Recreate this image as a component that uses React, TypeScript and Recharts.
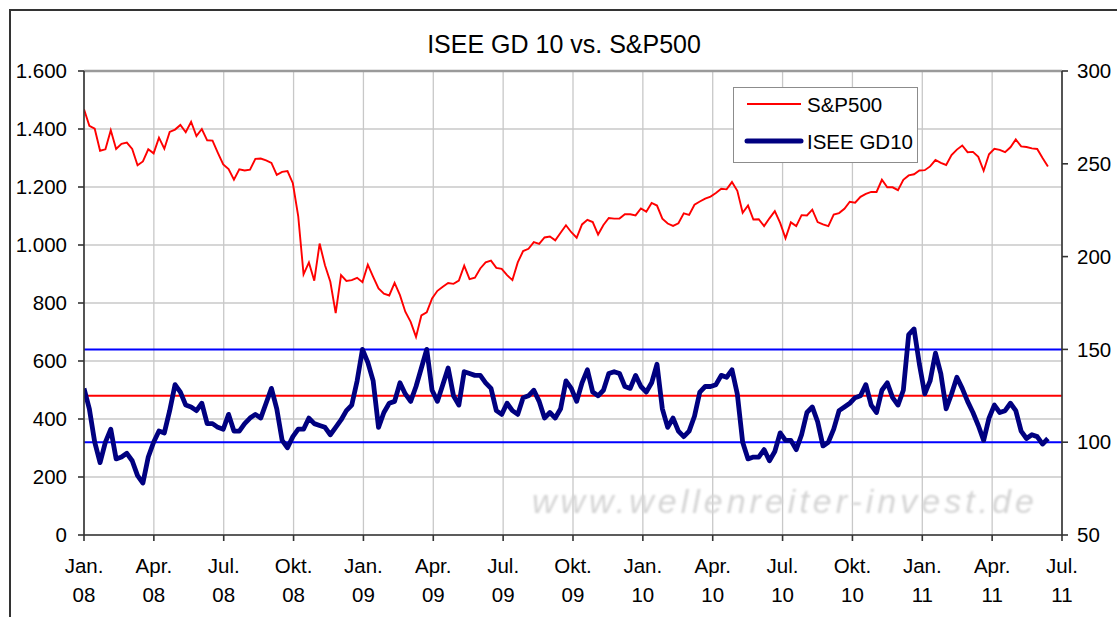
import React from 'react';
import { ComposedChart, Line, XAxis, YAxis, CartesianGrid, ReferenceLine } from 'recharts';

// Weekly closes, starting end of Dec 2007 (one point per week)
const spx2008 = [1468, 1411, 1401, 1325, 1330, 1396, 1331, 1349, 1353, 1331, 1275, 1288, 1330, 1316, 1370, 1332, 1390, 1398, 1414, 1389, 1425, 1376, 1400, 1361, 1360, 1318, 1278, 1262, 1225, 1261, 1257, 1260, 1297, 1298, 1292, 1283, 1242, 1252, 1255, 1213, 1100, 899, 940, 877, 1005, 930, 873, 765, 896, 876, 879, 887, 872];
const spx2009 = [932, 890, 850, 832, 826, 869, 827, 770, 735, 683, 757, 768, 816, 842, 856, 869, 866, 877, 929, 882, 887, 919, 940, 946, 921, 918, 896, 879, 940, 979, 987, 1010, 1004, 1026, 1029, 1016, 1042, 1068, 1044, 1025, 1071, 1087, 1079, 1036, 1069, 1093, 1091, 1091, 1106, 1106, 1102, 1126, 1115];
const spx2010 = [1145, 1136, 1091, 1074, 1066, 1075, 1109, 1104, 1139, 1150, 1160, 1167, 1179, 1194, 1192, 1217, 1187, 1111, 1136, 1088, 1089, 1065, 1092, 1117, 1076, 1023, 1078, 1065, 1103, 1102, 1122, 1079, 1071, 1065, 1105, 1110, 1125, 1149, 1146, 1166, 1176, 1183, 1183, 1225, 1199, 1199, 1189, 1225, 1240, 1244, 1257, 1258];
const spx2011 = [1271, 1293, 1283, 1276, 1310, 1329, 1343, 1320, 1321, 1304, 1256, 1313, 1332, 1328, 1320, 1337, 1364, 1340, 1338, 1333, 1331, 1300, 1271];
const spx = [...spx2008, ...spx2009, ...spx2010, ...spx2011];

const iseeGD10 = [
  129, 118, 100, 89, 100, 107, 91, 92, 94, 90, 82, 78, 92, 100, 106, 105, 117, 131, 127, 120,
  119, 117, 121, 110, 110, 108, 107, 115, 106, 106, 110, 113, 115, 113, 121, 129, 118, 101, 97, 103,
  107, 107, 113, 110, 109, 108, 104, 108, 112, 117, 120, 133, 150, 143, 133, 108, 116, 121, 122, 132,
  126, 122, 130, 140, 150, 128, 122, 131, 140, 125, 120, 138, 137, 136, 136, 132, 129, 117, 115, 121,
  117, 115, 124, 125, 128, 122, 113, 116, 113, 118, 133, 129, 122, 132, 139, 127, 125, 128, 137, 138,
  137, 130, 129, 136, 130, 127, 132, 142, 118, 108, 113, 106, 103, 106, 114, 127, 130, 130, 131, 136,
  135, 139, 126, 100, 91, 92, 92, 96, 90, 95, 105, 101, 101, 96, 104, 116, 119, 111, 98, 100,
  107, 117, 119, 121, 124, 125, 131, 120, 116, 128, 132, 124, 120, 128, 158, 161, 142, 126, 133, 148,
  137, 118, 126, 135, 129, 122, 116, 109, 101, 113, 120, 116, 117, 121, 117, 106, 102, 104, 103, 99,
  102,
];

// x axis in months since Jan 2008
const WEEK_IN_MONTHS = 12 / 52.18;
const tickMonths = [0, 3, 6, 9, 12, 15, 18, 21, 24, 27, 30, 33, 36, 39, 42];
const tickNames = ['Jan.', 'Apr.', 'Jul.', 'Okt.', 'Jan.', 'Apr.', 'Jul.', 'Okt.', 'Jan.', 'Apr.', 'Jul.', 'Okt.', 'Jan.', 'Apr.', 'Jul.'];
const tickYears = ['08', '08', '08', '08', '09', '09', '09', '09', '10', '10', '10', '10', '11', '11', '11'];
const leftTicks = [0, 200, 400, 600, 800, 1000, 1200, 1400, 1600];
const rightTicks = [50, 100, 150, 200, 250, 300];
const upperBand = 150;
const midBand = 125;
const lowerBand = 100;

const data = spx.map((v, i) => ({ x: i * WEEK_IN_MONTHS, sp: v, isee: iseeGD10[i] }));

const FONT = '"Liberation Sans", Arial, sans-serif';

const fmtDe = (v: number) =>
  v >= 1000 ? `${Math.floor(v / 1000)}.${String(v % 1000).padStart(3, '0')}` : String(v);

const XTick = (props: any) => {
  const { x, y, payload } = props;
  const i = tickMonths.indexOf(payload.value);
  return (
    <text x={x} y={y} textAnchor="middle" fontSize={20.5} fontFamily={FONT} fill="#000">
      <tspan x={x} dy={30}>{tickNames[i]}</tspan>
      <tspan x={x} dy={29}>{tickYears[i]}</tspan>
    </text>
  );
};

export default function App() {
  return (
    <div style={{ position: 'relative', width: 1117, height: 617, background: '#fff', overflow: 'hidden' }}>
      <style>{'html,body{margin:0;padding:0;overflow:hidden;background:#fff}'}</style>
      <ComposedChart
        width={1117}
        height={617}
        data={data}
        margin={{ top: 71, right: 0, bottom: 0, left: 0 }}
      >
        <CartesianGrid yAxisId="left" stroke="#c8c8c8" strokeWidth={1.3} />
        <XAxis
          dataKey="x"
          type="number"
          domain={[0, 42]}
          ticks={tickMonths}
          interval={0}
          height={82}
          tickSize={6}
          tickMargin={2}
          tick={<XTick />}
          stroke="#333"
          strokeWidth={1.6}
          allowDataOverflow
        />
        <YAxis
          yAxisId="left"
          domain={[0, 1600]}
          ticks={leftTicks}
          width={84}
          tickSize={6}
          tickMargin={11}
          tickFormatter={fmtDe}
          tick={{ fontSize: 20.5, fontFamily: FONT, fill: '#000' }}
          stroke="#333"
          strokeWidth={1.6}
          interval={0}
        />
        <YAxis
          yAxisId="right"
          orientation="right"
          domain={[50, 300]}
          ticks={rightTicks}
          width={55}
          tickSize={6}
          tickMargin={9}
          tick={{ fontSize: 20.5, fontFamily: FONT, fill: '#000', textAnchor: 'start' }}
          stroke="#333"
          strokeWidth={1.6}
          interval={0}
        />
        <ReferenceLine yAxisId="left" y={1600} stroke="#9a9a9a" strokeWidth={2.5} />
        <ReferenceLine yAxisId="right" y={upperBand} stroke="#0000ff" strokeWidth={2} />
        <ReferenceLine yAxisId="right" y={midBand} stroke="#ff0000" strokeWidth={2} />
        <ReferenceLine yAxisId="right" y={lowerBand} stroke="#0000ff" strokeWidth={2} />
        <Line
          yAxisId="left"
          type="linear"
          dataKey="sp"
          name="S&P500"
          stroke="#ff0000"
          strokeWidth={1.9}
          dot={false}
          isAnimationActive={false}
        />
        <Line
          yAxisId="right"
          type="linear"
          dataKey="isee"
          name="ISEE GD10"
          stroke="#000080"
          strokeWidth={4.8}
          strokeLinejoin="round"
          dot={false}
          isAnimationActive={false}
        />
      </ComposedChart>
      <svg
        width={186}
        height={77}
        style={{ position: 'absolute', left: 733, top: 87, display: 'block' }}
      >
        <rect x={0.5} y={0.5} width={184} height={75} fill="#fff" stroke="#8c8c8c" strokeWidth={1} />
        <line x1={14} x2={68} y1={17} y2={17} stroke="#ff0000" strokeWidth={1.8} />
        <text x={74} y={25} fontSize={20.5} fontFamily={FONT} fill="#000">S&amp;P500</text>
        <line x1={14} x2={68} y1={54} y2={54} stroke="#000080" strokeWidth={5} strokeLinecap="round" />
        <text x={74} y={62} fontSize={20.5} fontFamily={FONT} fill="#000">ISEE GD10</text>
      </svg>
      <div
        style={{
          position: 'absolute',
          left: 0,
          top: 32,
          width: 1128,
          textAlign: 'center',
          fontFamily: FONT,
          fontSize: 25,
          lineHeight: '25px',
          color: '#000',
          pointerEvents: 'none',
        }}
      >
        ISEE GD 10 vs. S&amp;P500
      </div>
      <div
        style={{
          position: 'absolute',
          left: 532,
          top: 484,
          fontFamily: FONT,
          fontSize: 34,
          fontStyle: 'italic',
          lineHeight: '34px',
          letterSpacing: 4,
          color: '#d4d4d4',
          filter: 'blur(0.8px)',
          pointerEvents: 'none',
          whiteSpace: 'nowrap',
        }}
      >
        www.wellenreiter-invest.de
      </div>
      <div
        style={{
          position: 'absolute',
          left: 9,
          top: 9,
          width: 1120,
          height: 620,
          borderTop: '2px solid #333',
          borderLeft: '2px solid #333',
          pointerEvents: 'none',
        }}
      />
    </div>
  );
}
